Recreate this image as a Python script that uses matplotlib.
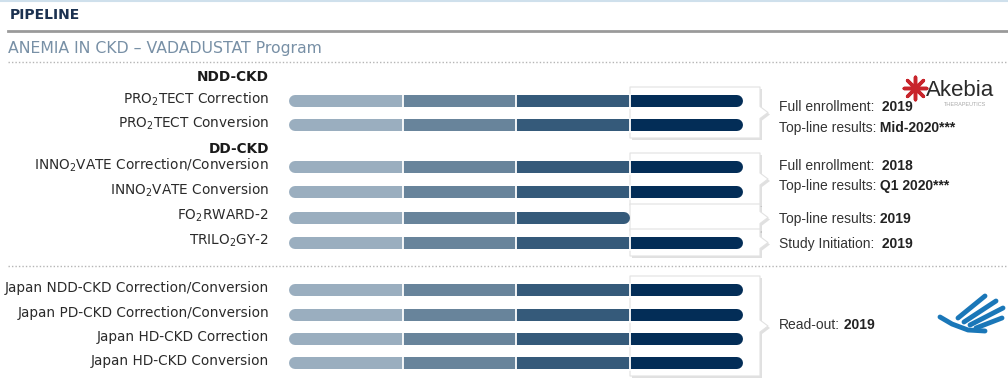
import matplotlib
matplotlib.use("Agg")
import matplotlib.pyplot as plt
from matplotlib.patches import Polygon

# ---- data ----
trial_labels = [
    "PRO$_2$TECT Correction",
    "PRO$_2$TECT Conversion",
    "INNO$_2$VATE Correction/Conversion",
    "INNO$_2$VATE Conversion",
    "FO$_2$RWARD-2",
    "TRILO$_2$GY-2",
    "Japan NDD-CKD Correction/Conversion",
    "Japan PD-CKD Correction/Conversion",
    "Japan HD-CKD Correction",
    "Japan HD-CKD Conversion",
]
phases_done = [4, 4, 4, 4, 3, 4, 4, 4, 4, 4]
group_headers = ["NDD-CKD", "DD-CKD"]

# callouts: rows covered, list of (label, value)
callouts = [
    ([0, 1], [("Full enrollment: ", " 2019"), ("Top-line results:", " Mid-2020***")]),
    ([2, 3], [("Full enrollment: ", " 2018"), ("Top-line results:", " Q1 2020***")]),
    ([4], [("Top-line results:", " 2019")]),
    ([5], [("Study Initiation: ", " 2019")]),
    ([6, 7, 8, 9], [("Read-out:", " 2019")]),
]

phase_colors = ["#9aaebf", "#68849b", "#355a7a", "#032d57"]

# ---- layout (pixels) ----
W, H = 1008, 383
row_y = [101, 125, 167, 192, 218, 243, 290, 315, 339, 363]
header_y = [77, 149]
note_y = [[107, 128], [166, 186], [219], [244], [325]]
bar_x0, phase_w = 289, 113.6
bar_h = 12
label_x = 269

fig = plt.figure(figsize=(W / 100, H / 100), dpi=100)
ax = fig.add_axes([0, 0, 1, 1])
ax.set_xlim(0, W)
ax.set_ylim(H, 0)
ax.axis("off")

lab_font = "DejaVu Sans"
note_font = ["Liberation Sans Narrow", "Liberation Sans", "DejaVu Sans"]

# header
ax.axhline(0.8, color="#cfe0ec", lw=1.5)
ax.text(10, 15, "PIPELINE", fontsize=10, fontweight="bold", color="#1b3150",
        va="center", family=lab_font)
ax.plot([8, W], [31, 31], color="#9a9a9a", lw=2)
ax.text(8, 48, "ANEMIA IN CKD \u2013 VADADUSTAT Program", fontsize=11.3,
        color="#7890a6", va="center", family=lab_font)
ax.plot([8, W], [62, 62], color="#b5b5b5", lw=1, ls=(0, (1, 1.5)))
ax.plot([8, W], [266, 266], color="#b5b5b5", lw=1, ls=(0, (1, 1.5)))

# group headers
for name, hy in zip(group_headers, header_y):
    ax.text(label_x, hy, name, fontsize=9.8, fontweight="bold",
            color="#1a1a1a", ha="right", va="center", family=lab_font)

# row labels
for y, lab in zip(row_y, trial_labels):
    ax.text(label_x, y - 2, lab, fontsize=9.8, color="#2a2a2a", ha="right",
            va="center", family=lab_font)

# callout bubbles (behind the bars)
for (rows, lines), ys in zip(callouts, note_y):
    top = row_y[rows[0]] - 14
    bot = row_y[rows[-1]] + 13
    mid = (top + bot) / 2
    pts = [(630, top), (760, top), (760, mid - 6), (768, mid), (760, mid + 6),
           (760, bot), (630, bot)]
    shadow = Polygon([(x + 2, y + 2) for x, y in pts], closed=True,
                     facecolor="#000000", alpha=0.12, edgecolor="none",
                     zorder=1)
    ax.add_patch(shadow)
    ax.add_patch(Polygon(pts, closed=True, facecolor="white",
                         edgecolor="#e2e2e2", lw=0.8, joinstyle="round",
                         zorder=1.5))
    for (lab, val), ty in zip(lines, ys):
        t = ax.text(779, ty, lab, fontsize=10, color="#333333",
                    va="center", family=note_font, zorder=3)
        ax.annotate(val, xy=(1, 0), xycoords=t, fontsize=10,
                    fontweight="bold", color="#222222", va="bottom",
                    family=note_font, zorder=3)

# bars: rounded ends drawn first, middle segments on top
lw_pt = bar_h * 72 / 100
r = bar_h / 2
for y, n in zip(row_y, phases_done):
    edges = [bar_x0 + i * phase_w for i in range(n + 1)]
    ax.plot([edges[0] + r, edges[1]], [y, y], color=phase_colors[0],
            lw=lw_pt, solid_capstyle="round", zorder=4)
    ax.plot([edges[n - 1], edges[n] - r], [y, y], color=phase_colors[n - 1],
            lw=lw_pt, solid_capstyle="round", zorder=4)
    for i in range(1, n - 1):
        ax.plot([edges[i], edges[i + 1]], [y, y], color=phase_colors[i],
                lw=lw_pt, solid_capstyle="butt", zorder=5)
    for e in edges[1:n]:
        ax.plot([e, e], [y - r - 0.5, y + r + 0.5], color="white", lw=1.3,
                zorder=6)

# logos (approximate)
ax.scatter([915], [88], marker=(8, 2, 0), s=260, color="#c8242b", lw=2.5,
           zorder=3)
ax.text(926, 90, "Akebia", fontsize=16, color="#2a2a2a", va="center",
        family=["Liberation Sans", "DejaVu Sans"])
ax.text(944, 104, "THERAPEUTICS", fontsize=4, color="#aaaaaa", va="center",
        family=["Liberation Sans", "DejaVu Sans"])
for x0, y0, x1, y1 in [(958, 318, 985, 296), (964, 322, 996, 301),
                       (970, 325, 1003, 308), (976, 328, 1002, 318)]:
    ax.plot([x0, x1], [y0, y1], color="#1a77b8", lw=3.5,
            solid_capstyle="round")
ax.plot([940, 952, 968, 985], [317, 324, 330, 331], color="#1a77b8", lw=3.5,
        solid_capstyle="round")

fig.savefig("out.png", dpi=100)
